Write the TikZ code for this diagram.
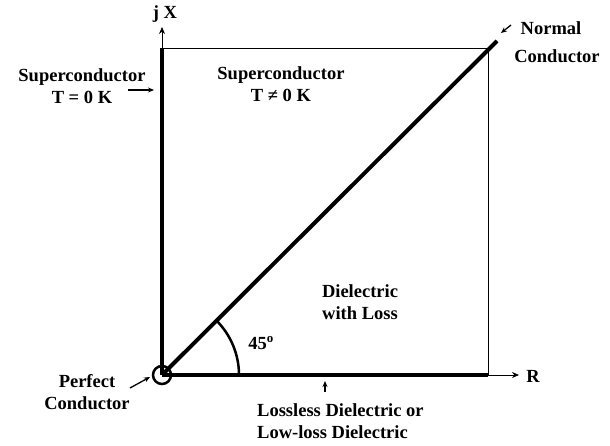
\documentclass[tikz,border=0pt]{standalone}
\usepackage{fontspec}
\setmainfont{Liberation Serif}
\usetikzlibrary{arrows.meta,calc}
\begin{document}
\begin{tikzpicture}[x=1pt,y=-1pt,
  lbl/.style={font=\fontsize{18.5}{22.5}\selectfont\bfseries, align=center, inner sep=0pt},
  thickln/.style={line width=4pt},
  thinln/.style={line width=0.8pt},
  pointer/.style={line width=1.3pt, -{Stealth[length=6pt,width=5pt]}}]
\useasboundingbox (0,0) rectangle (610,445);
\coordinate (O) at (162,375);
\coordinate (TL) at (162,48);
\coordinate (TR) at (488,48);
\coordinate (BR) at (488,375);
\coordinate (Xtip) at (162,27);
\coordinate (Rtip) at (519,375);
\coordinate (D) at (497,41);
% box
\draw[thinln] (TL) -- (TR) -- (BR);
% axes arrows
\draw[thinln, -{Stealth[length=7pt,width=6pt]}] (TL) -- (Xtip);
\draw[thinln, -{Stealth[length=7pt,width=6pt]}] (BR) -- (Rtip);
% thick lines
\draw[thickln] (O) -- (TL);
\draw[thickln] (O) -- (BR);
\draw[thickln] (O) -- (D);
% origin circle
\draw[line width=2.5pt] (O) circle (9);
% angle arc
\draw[line width=2.5pt] ($(O)+(77,0)$) arc[start angle=0,end angle=-45,radius=77];
% labels
\node[lbl] (jx) at (165,14) {j X};
\node[lbl] (R) at (533,376) {R};
\node[lbl] (sc0) at (82,86) {Superconductor\\T = 0 K};
\node[lbl] (scn) at (281,84) {Superconductor\\T ≠ 0 K};
\node[lbl] (nc1) at (551,28) {Normal};
\node[lbl] (nc2) at (557,56) {Conductor};
\node[lbl] (diel) at (360,302) {Dielectric\\with Loss};
\node[lbl] (ang) at (261,343) {45\textsuperscript{o}};
\node[lbl] (pc) at (87,392) {Perfect\\Conductor};
\node[lbl, anchor=west, align=left] (ll) at (257,421) {Lossless Dielectric or\\Low-loss Dielectric};
% pointer arrows
\coordinate (a1s) at (128,90); \coordinate (a1e) at (154,90);
\draw[pointer] (a1s) -- (a1e);
\coordinate (a2s) at (511,25); \coordinate (a2e) at (501,33);
\draw[pointer] (a2s) -- (a2e);
\coordinate (a3s) at (130,388); \coordinate (a3e) at (150,377);
\draw[pointer] (a3s) -- (a3e);
\coordinate (a4s) at (325,392); \coordinate (a4e) at (325,381);
\draw[pointer] (a4s) -- (a4e);
\end{tikzpicture}
\end{document}
